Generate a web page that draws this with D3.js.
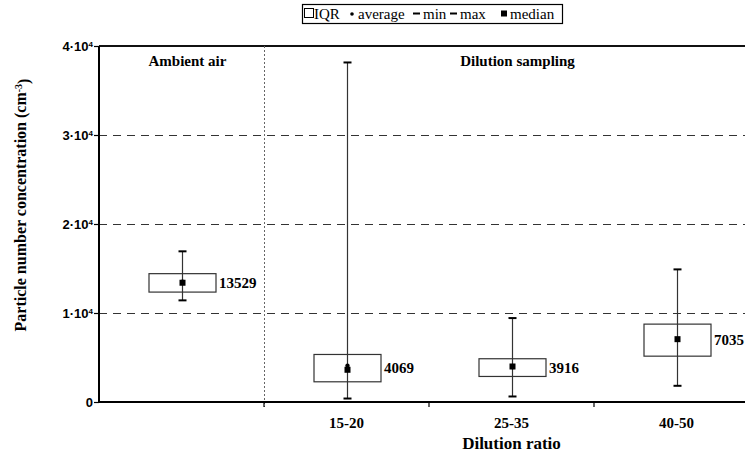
<!DOCTYPE html>
<html>
<head>
<meta charset="utf-8">
<script src="https://cdnjs.cloudflare.com/ajax/libs/d3/7.8.5/d3.min.js"></script>
<style>
  body { margin: 0; background: #fff; }
  svg { display: block; }
</style>
</head>
<body>
<svg></svg>
<script>
// data
let categories = ['Ambient air', '15-20', '25-35', '40-50']
let tickLabels = ['', '15-20', '25-35', '40-50']
let minValues = [11420, 390, 620, 1820]
let q1Values = [12350, 2270, 2870, 5150]
let medianValues = [13400, 3620, 3990, 7060]
let averageValues = [13529, 4069, 3916, 7035]
let q3Values = [14420, 5340, 4860, 8750]
let maxValues = [16930, 38150, 9430, 14900]
let yTicks = [0, 10000, 20000, 30000, 40000]
let yTickLabels = ['0', '1·10', '2·10', '3·10', '4·10']
let groupLabels = ['Ambient air', 'Dilution sampling']

let serif = '"Liberation Serif", "Times New Roman", "DejaVu Serif", serif'
let sans = '"Liberation Sans", Arial, sans-serif'

let width = 750
let height = 452
let plotLeft = 99
let plotTop = 46
let plotBottom = 402
let svg = d3.select('svg').attr('width', width).attr('height', height)

let xScale = d3.scaleBand()
                .domain(categories)
                .range([plotLeft, plotLeft + 165 * categories.length])
                .paddingInner(0)
let yScale = d3.scaleLinear()
                .domain([0, 40000])
                .range([plotBottom, plotTop])

let boxes = categories.map((c, i) => {
    return {cat: c, min: minValues[i], q1: q1Values[i], med: medianValues[i],
            avg: averageValues[i], q3: q3Values[i], max: maxValues[i]}
})

let drawGrid = () => {
    svg.selectAll('.grid')
        .data(yTicks.filter(t => t > 0 && t < 40000))
        .enter()
        .append('line')
        .attr('x1', plotLeft).attr('x2', 745)
        .attr('y1', d => yScale(d) + 0.5).attr('y2', d => yScale(d) + 0.5)
        .attr('stroke', '#333')
        .attr('stroke-width', 1)
        .attr('stroke-dasharray', '8,6')
    // top line
    svg.append('line')
        .attr('x1', plotLeft).attr('x2', 745)
        .attr('y1', yScale(40000)).attr('y2', yScale(40000))
        .attr('stroke', '#111').attr('stroke-width', 2)
    // separator between ambient and dilution
    let sep = xScale(categories[1]) + 0.5
    svg.append('line')
        .attr('x1', sep).attr('x2', sep)
        .attr('y1', yScale(40000)).attr('y2', plotBottom + 5)
        .attr('stroke', '#666').attr('stroke-width', 1)
        .attr('stroke-dasharray', '2,2')
}

let drawAxes = () => {
    let yAxis = d3.axisLeft(yScale).tickValues(yTicks).tickSize(5).tickFormat('')
    let gy = svg.append('g')
        .attr('transform', 'translate(' + plotLeft + ',0)')
        .call(yAxis)
    gy.select('.domain').attr('stroke-width', 2).attr('d', 'M0,' + plotTop + 'V' + plotBottom)
    gy.selectAll('.tick line').attr('stroke-width', 1.2)

    let lab = gy.selectAll('.tick')
        .append('text')
        .attr('x', -6)
        .attr('dy', '0.35em')
        .attr('fill', '#000')
        .attr('text-anchor', 'end')
        .style('font-family', sans)
        .style('font-size', '13px')
        .style('font-weight', 'bold')
    lab.each(function(d, i) {
        let t = d3.select(this)
        t.append('tspan').text(yTickLabels[i])
        if (d > 0) {
            t.append('tspan').attr('dy', '-0.45em').style('font-size', '8px').text('4')
        }
    })

    let xAxis = d3.axisBottom(xScale).tickSize(0).tickFormat((d, i) => tickLabels[i])
    let gx = svg.append('g')
        .attr('transform', 'translate(0,' + plotBottom + ')')
        .call(xAxis)
    gx.select('.domain').attr('stroke-width', 2).attr('d', 'M' + plotLeft + ',0H745')
    gx.selectAll('.tick text')
        .attr('y', 26)
        .attr('dy', 0)
        .style('font-family', serif)
        .style('font-size', '15px')
        .style('font-weight', 'bold')
        .attr('fill', '#000')
    // boundary ticks between categories
    gx.selectAll('.bound')
        .data(categories.slice(1))
        .enter()
        .append('line')
        .attr('x1', d => xScale(d)).attr('x2', d => xScale(d))
        .attr('y1', 0).attr('y2', 5)
        .attr('stroke', '#000').attr('stroke-width', 1.2)

    svg.append('text')
        .attr('x', xScale('25-35') + xScale.bandwidth() / 2)
        .attr('y', 449)
        .attr('text-anchor', 'middle')
        .style('font-family', serif)
        .style('font-size', '17px')
        .style('font-weight', 'bold')
        .text('Dilution ratio')

    let yt = svg.append('text')
        .attr('transform', 'translate(26,205) rotate(-90)')
        .attr('text-anchor', 'middle')
        .style('font-family', serif)
        .style('font-size', '16px')
        .style('font-weight', 'bold')
    yt.append('tspan').text('Particle number concentration (cm')
    yt.append('tspan').attr('dy', '-0.45em').style('font-size', '10px').text('-3')
    yt.append('tspan').attr('dy', '0.45em').text(')')

    svg.selectAll('.group')
        .data(groupLabels)
        .enter()
        .append('text')
        .attr('x', (d, i) => i === 0 ? xScale(categories[0]) + xScale.bandwidth() / 2 + 6 : xScale('25-35') + xScale.bandwidth() / 2 + 6)
        .attr('y', 66)
        .attr('text-anchor', 'middle')
        .style('font-family', serif)
        .style('font-size', '15px')
        .style('font-weight', 'bold')
        .text(d => d)
}

let drawBoxes = () => {
    let bw = 67
    let g = svg.selectAll('.box')
        .data(boxes)
        .enter()
        .append('g')
        .attr('transform', d => 'translate(' + (Math.round(xScale(d.cat) + xScale.bandwidth() / 2) + 0.5) + ',0)')

    g.append('line')
        .attr('x1', 0).attr('x2', 0)
        .attr('y1', d => yScale(d.max)).attr('y2', d => yScale(d.min))
        .attr('stroke', '#333').attr('stroke-width', 1.2)
    g.append('rect')
        .attr('x', -bw / 2)
        .attr('width', bw)
        .attr('y', d => yScale(d.q3))
        .attr('height', d => yScale(d.q1) - yScale(d.q3))
        .attr('fill', 'none')
        .attr('stroke', '#333').attr('stroke-width', 1.2)
    g.selectAll('.cap')
        .data(d => [d.min, d.max])
        .enter()
        .append('line')
        .attr('x1', -4).attr('x2', 4)
        .attr('y1', d => yScale(d)).attr('y2', d => yScale(d))
        .attr('stroke', '#000').attr('stroke-width', 2)
    g.append('circle')
        .attr('cx', 0)
        .attr('cy', d => yScale(d.avg))
        .attr('r', 2.2)
        .attr('fill', '#000')
    g.append('rect')
        .attr('x', -3)
        .attr('y', d => yScale(d.med) - 3)
        .attr('width', 6).attr('height', 6)
        .attr('fill', '#000')
    g.append('text')
        .attr('x', bw / 2 + 3)
        .attr('y', d => (yScale(d.q1) + yScale(d.q3)) / 2 + 5)
        .style('font-family', serif)
        .style('font-size', '15px')
        .style('font-weight', 'bold')
        .text(d => d.avg)
}

let drawLegend = () => {
    let lg = svg.append('g')
    lg.append('rect')
        .attr('x', 302.5).attr('y', 4.5)
        .attr('width', 260).attr('height', 19)
        .attr('fill', '#fff').attr('stroke', '#000').attr('stroke-width', 1.2)
    lg.append('rect')
        .attr('x', 304.5).attr('y', 8.5).attr('width', 9).attr('height', 9)
        .attr('fill', 'none').attr('stroke', '#000').attr('stroke-width', 1)
    lg.append('circle').attr('cx', 352).attr('cy', 14).attr('r', 1.8).attr('fill', '#000')
    lg.append('line').attr('x1', 413).attr('x2', 420).attr('y1', 13.5).attr('y2', 13.5)
        .attr('stroke', '#000').attr('stroke-width', 2)
    lg.append('line').attr('x1', 450).attr('x2', 457).attr('y1', 13.5).attr('y2', 13.5)
        .attr('stroke', '#000').attr('stroke-width', 2)
    lg.append('rect').attr('x', 501).attr('y', 10.5).attr('width', 6).attr('height', 6).attr('fill', '#000')
    let items = [['IQR', 314], ['average', 358], ['min', 423], ['max', 460], ['median', 510]]
    lg.selectAll('.lt')
        .data(items)
        .enter()
        .append('text')
        .attr('x', d => d[1])
        .attr('y', 18.5)
        .style('font-family', serif)
        .style('font-size', '15px')
        .text(d => d[0])
}

drawGrid()
drawBoxes()
drawAxes()
drawLegend()
</script>
</body>
</html>
